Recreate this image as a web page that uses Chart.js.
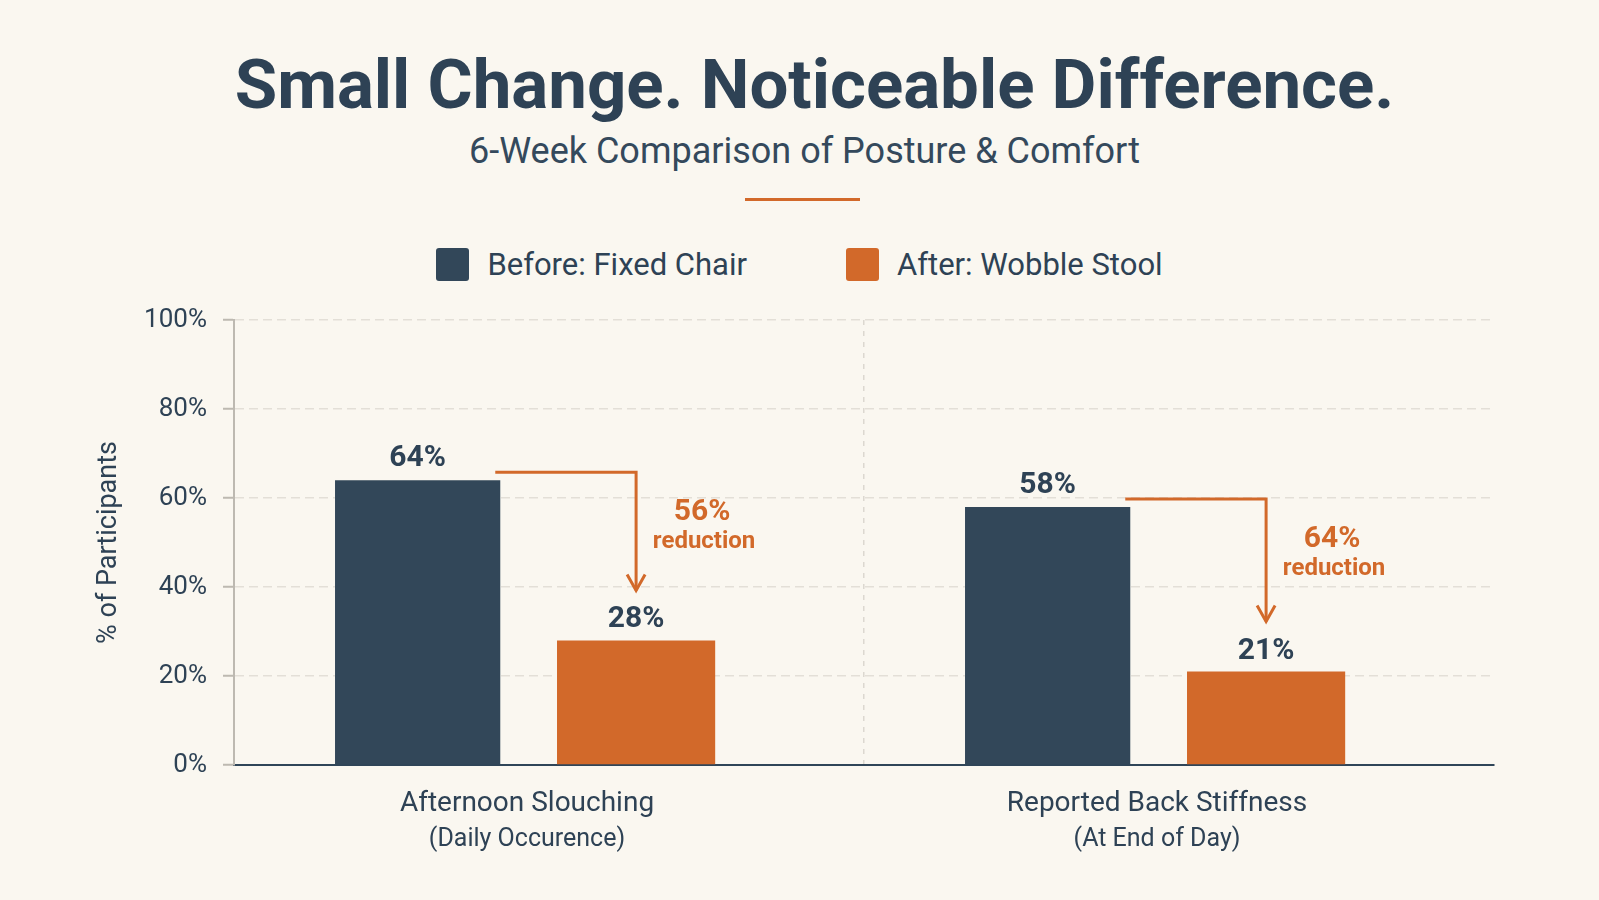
<!DOCTYPE html>
<html>
<head>
<meta charset="utf-8">
<script src="https://cdn.jsdelivr.net/npm/chart.js@4.4.1/dist/chart.umd.min.js"></script>
<style>
  html, body { margin: 0; padding: 0; }
  body {
    width: 1599px; height: 900px; overflow: hidden; position: relative;
    background: #faf7f0; font-family: Roboto, "Noto Sans", sans-serif; color: #2e4052;
  }
  #c { position: absolute; left: 0; top: 0; }
  .title {
    position: absolute; left: 15px; top: 50px; width: 1599px; text-align: center;
    font-size: 69px; font-weight: 700; line-height: 1; color: #2e4255;
  }
  .subtitle {
    position: absolute; left: 5px; top: 133px; width: 1599px; text-align: center;
    font-size: 36px; line-height: 1; color: #34495c;
  }
  .rule { position: absolute; left: 745px; top: 198px; width: 115px; height: 3px; background: #d2692a; }
  #legend {
    position: absolute; left: 0; top: 248px; width: 1599px; height: 33px;
    display: flex; justify-content: center; gap: 99px;
  }
  .item { display: flex; align-items: center; font-size: 31px; color: #2e4255; }
  .box { width: 33px; height: 33px; border-radius: 3px; margin-right: 18px; }
</style>
</head>
<body>
<div class="title">Small Change. Noticeable Difference.</div>
<div class="subtitle">6-Week Comparison of Posture &amp; Comfort</div>
<div class="rule"></div>
<div id="legend"></div>
<canvas id="c" width="1599" height="900"></canvas>
<script>
// Datos
const categories = ['Afternoon Slouching', 'Reported Back Stiffness'];
const subLabels = ['(Daily Occurence)', '(At End of Day)'];
const seriesNames = ['Before: Fixed Chair', 'After: Wobble Stool'];
const beforeValues = [64, 58];
const afterValues = [28, 21];
const yTicks = [0, 20, 40, 60, 80, 100];

const NAVY = '#324759';
const ORANGE = '#d2692a';
const TEXT = '#2e4255';
const LABEL_OFFSET = -22;

// Leyenda en HTML
const legend = document.getElementById('legend');
[NAVY, ORANGE].forEach((col, i) => {
    const el = document.createElement('div');
    el.className = 'item';
    el.innerHTML = '<span class="box" style="background:' + col + '"></span>' + seriesNames[i];
    legend.appendChild(el);
});

// Etiquetas, flechas y subtítulos de categoría
const annotations = {
    id: 'annotations',
    afterDatasetsDraw(chart) {
        const ctx = chart.ctx;
        const before = chart.getDatasetMeta(0).data;
        const after = chart.getDatasetMeta(1).data;
        ctx.save();
        ctx.textAlign = 'center';
        ctx.textBaseline = 'alphabetic';
        categories.forEach((c, i) => {
            const b = before[i], a = after[i];
            ctx.font = '700 30px Roboto';
            ctx.fillStyle = TEXT;
            ctx.fillText(beforeValues[i] + '%', b.x, b.y - 14);
            ctx.fillText(afterValues[i] + '%', a.x, a.y - 13);

            const x1 = b.x + b.width / 2 - 5, y1 = b.y - 8;
            const tipY = a.y - 50;
            ctx.strokeStyle = ORANGE;
            ctx.lineWidth = 3;
            ctx.beginPath();
            ctx.moveTo(x1, y1);
            ctx.lineTo(a.x, y1);
            ctx.lineTo(a.x, tipY);
            ctx.stroke();
            ctx.beginPath();
            ctx.moveTo(a.x - 9, tipY - 16);
            ctx.lineTo(a.x, tipY);
            ctx.lineTo(a.x + 9, tipY - 16);
            ctx.stroke();

            const pct = Math.round((beforeValues[i] - afterValues[i]) / beforeValues[i] * 100);
            ctx.fillStyle = ORANGE;
            ctx.font = '700 30px Roboto';
            ctx.fillText(pct + '%', a.x + 66, y1 + 48);
            ctx.font = '700 24px Roboto';
            ctx.fillText('reduction', a.x + 68, y1 + 76);
        });
        const xs = chart.scales.x;
        ctx.font = '25px Roboto';
        ctx.fillStyle = TEXT;
        ctx.textBaseline = 'middle';
        subLabels.forEach((s, i) => ctx.fillText(s, xs.getPixelForTick(i) + LABEL_OFFSET, xs.top + 75));
        ctx.restore();
    }
};

new Chart(document.getElementById('c'), {
    type: 'bar',
    data: {
        labels: categories,
        datasets: [{
            label: seriesNames[0],
            data: beforeValues,
            backgroundColor: NAVY,
            categoryPercentage: 0.834,
            barPercentage: 0.629
        }, {
            label: seriesNames[1],
            data: afterValues,
            backgroundColor: ORANGE,
            categoryPercentage: 0.553,
            barPercentage: 0.908
        }]
    },
    options: {
        responsive: false,
        animation: false,
        layout: { padding: { top: 320, right: 105, bottom: 0, left: 0 } },
        plugins: { legend: { display: false }, tooltip: { enabled: false } },
        scales: {
            x: {
                afterFit: s => { s.height = 135; },
                grid: {
                    color: c => c.index === 1 ? '#dcd8d0' : 'transparent',
                    lineWidth: 1.5,
                    drawTicks: false
                },
                border: { color: '#2f4558', width: 2, dash: [5, 6] },
                ticks: {
                    color: TEXT,
                    font: { family: 'Roboto', size: 28 },
                    padding: 22,
                    labelOffset: LABEL_OFFSET
                }
            },
            y: {
                min: 0,
                max: 100,
                afterFit: s => { s.width = 234; },
                afterBuildTicks: s => { s.ticks = yTicks.map(v => ({ value: v })); },
                grid: {
                    color: c => c.tick && c.tick.value === 0 ? 'transparent' : '#e3dfd7',
                    lineWidth: 1.5,
                    tickLength: 11,
                    tickColor: '#bdb9b1',
                    tickWidth: 2,
                    tickBorderDash: []
                },
                border: { color: '#bdb9b1', width: 2, dash: [9, 5] },
                ticks: {
                    color: TEXT,
                    font: { family: 'Roboto', size: 26 },
                    padding: 16,
                    callback: v => v + '%'
                },
                title: {
                    display: true,
                    text: '% of Participants',
                    color: TEXT,
                    font: { family: 'Roboto', size: 27 },
                    padding: { top: 93, bottom: 0 }
                }
            }
        }
    },
    plugins: [annotations]
});
</script>
</body>
</html>
